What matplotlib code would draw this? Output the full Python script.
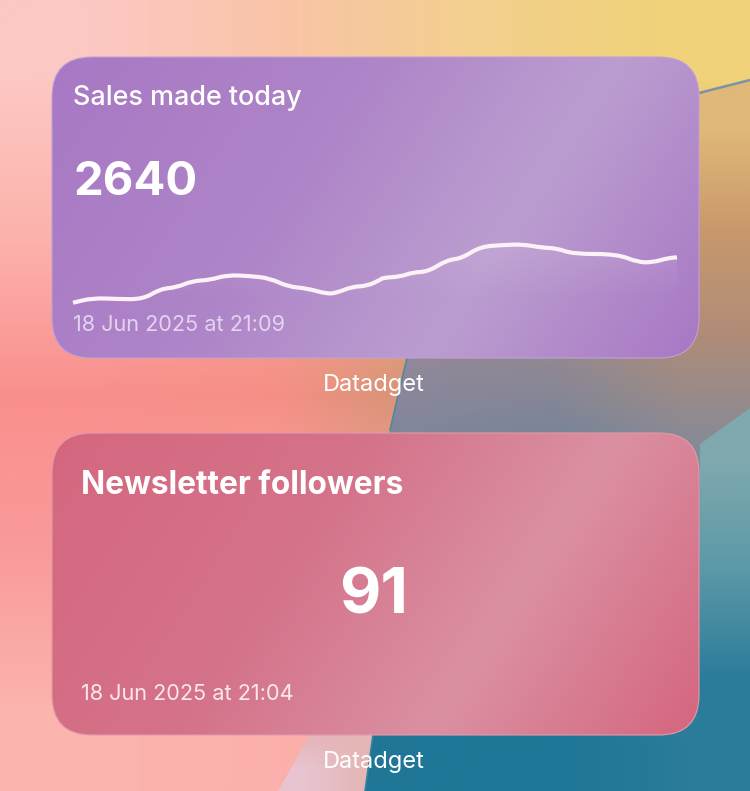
# -*-coding:utf-8-*-
import numpy as np
import matplotlib
matplotlib.use('Agg')
import matplotlib.pyplot as plt
from matplotlib.colors import to_rgb
from matplotlib.patches import FancyBboxPatch, Polygon, PathPatch
from matplotlib.path import Path

plt.rcParams['font.family'] = ['Inter', 'DejaVu Sans']

# sparkline samples
sample_pos = [0, 20, 44, 70, 87, 104, 119, 137, 154, 177, 197, 215, 234, 254, 264, 279, 294, 307,
              310, 327, 340, 355, 374, 389, 407, 430, 450, 469, 484, 500, 544, 565, 580, 594, 604]
sales = [2.3, 7, 6, 5.7, 16, 17.7, 24, 25, 30, 29, 26.7, 18.3, 16.7, 11, 12.3, 18.3, 19, 25,
         27.3, 28.3, 32.7, 33.3, 45, 46.7, 58.3, 60, 60.7, 57.3, 56.7, 51, 51, 42.7, 42.7, 46.7, 47.7]

card_titles = ['Sales made today', 'Newsletter followers']
card_values = ['2640', '91']
card_dates = ['18 Jun 2025 at 21:09', '18 Jun 2025 at 21:04']
app_name = 'Datadget'


def color_grid(rows):
    return np.array([[to_rgb(c) for c in r] for r in rows])


fig = plt.figure(figsize=(7.5, 7.91), dpi=100)
bg = fig.add_axes([0, 0, 1, 1])
ext = (0, 750, 791, 0)

# wallpaper
warm = color_grid([
    ['#fcc8c3', '#f9c4a8', '#f3cf8f', '#f0d27a'],
    ['#fdb2ac', '#f8ac98', '#e6b27e', '#d8ab70'],
    ['#f98f8d', '#f58f86', '#c8966e', '#bf9468'],
    ['#f99b99', '#f9a8a4', '#f4a09a', '#a88a80'],
    ['#fbb4ae', '#fbb0ac', '#f8a8a4', '#9a8a90'],
])
bg.imshow(warm, extent=ext, interpolation='bilinear', aspect='auto', zorder=0)

band = Polygon([(330, 700), (390, 700), (365, 791), (278, 791)], closed=True, transform=bg.transData)
im = bg.imshow(color_grid([['#e2aeb0', '#e6b4b4'], ['#e8c4d0', '#e4b6b6']]), extent=(278, 390, 791, 700),
               interpolation='bilinear', aspect='auto', zorder=1)
im.set_clip_path(band)

dark = color_grid([
    ['#e0b878', '#e0b878', '#e0b878'],
    ['#c8986c', '#c8986c', '#c8986c'],
    ['#98889a', '#9a8a90', '#b08c78'],
    ['#80869a', '#78849a', '#8a8a94'],
    ['#3f7c98', '#2f7a98', '#5a98a8'],
    ['#1f7898', '#1f7898', '#2f84a0'],
    ['#1f7696', '#1e7696', '#2a7c9a'],
])
shape = Polygon([(750, 80), (700, 93), (600, 135), (470, 250), (407, 358), (397, 400), (390, 430),
                 (380, 600), (373, 735), (365, 791), (750, 791)], closed=True,
                transform=bg.transData)
im = bg.imshow(dark, extent=(360, 750, 791, 80), interpolation='bilinear', aspect='auto', zorder=2)
im.set_clip_path(shape)
bg.plot([699, 750], [93, 80], color='#7a93a8', lw=1.8, zorder=3, solid_capstyle='butt')
bg.plot([407, 397, 390], [358, 400, 430], color='#4f8a9c', lw=1.2, zorder=3)
bg.plot([373, 365], [735, 791], color='#2f84a0', lw=1.2, zorder=3)
wedge = Polygon([(750, 408), (700, 444), (699, 735), (750, 735)], closed=True, transform=bg.transData)
im = bg.imshow(color_grid([['#7fa9ae', '#7fa9ae'], ['#5c98a8', '#5c98a8'], ['#2a7c9a', '#2a7c9a']]),
               extent=(699, 750, 735, 405), interpolation='bilinear', aspect='auto', zorder=3)
im.set_clip_path(wedge)


def draw_card(top, height, stops, edge):
    left, width = 52, 647
    xx, yy = np.meshgrid(np.linspace(0, 1, 200), np.linspace(0, 1, 100))
    t = xx + 0.3 * yy
    pos = [0, 0.5, 0.88, 1.3]
    rgb = np.array([to_rgb(c) for c in stops])
    img = np.dstack([np.interp(t, pos, rgb[:, i]) for i in range(3)])
    r = 40
    box = FancyBboxPatch((left + r, top + r), width - 2 * r, height - 2 * r,
                         boxstyle='round,pad=%d,rounding_size=%d' % (r, r),
                         fc='none', ec=edge, lw=0.8, zorder=5, transform=bg.transData)
    bg.add_patch(box)
    im = bg.imshow(img, extent=(left, left + width, top + height, top), aspect='auto', zorder=4,
                   interpolation='bilinear')
    im.set_clip_path(box)


draw_card(57, 301, ['#a878c4', '#ae85c8', '#bb9dd0', '#a878c4'], '#c0a0d6')
draw_card(433, 302, ['#d5677f', '#d4738a', '#db90a2', '#d4667f'], '#e29aaa')
bg.set_xlim(0, 750)
bg.set_ylim(791, 0)
bg.axis('off')

# sparkline
ax = fig.add_axes([73 / 750, 1 - 305 / 791, 604 / 750, 65 / 791])
ax.axis('off')
ax.patch.set_alpha(0)
fill = ax.fill_between(sample_pos, 3, sales, color='none')
fade = np.ones((64, 2, 4))
fade[:, :, 3] = np.linspace(0.10, 0.0, 64)[:, None]
im = ax.imshow(fade, extent=(0, 604, 3, 62), origin='upper', aspect='auto', zorder=2, interpolation='bilinear')
im.set_clip_path(fill.get_paths()[0], ax.transData)
ax.set_xlim(0, 604)
ax.set_ylim(0, 65)

# rounded line through the samples
pts = np.column_stack([sample_pos, sales])
mids = (pts[:-1] + pts[1:]) / 2
verts = [pts[0], mids[0]]
codes = [Path.MOVETO, Path.LINETO]
for i in range(1, len(pts) - 1):
    verts += [pts[i], mids[i]]
    codes += [Path.CURVE3, Path.CURVE3]
verts.append(pts[-1])
codes.append(Path.LINETO)
ax.add_patch(PathPatch(Path(verts, codes), fc='none', ec='#fbf1f6', lw=3, zorder=3,
                       clip_on=False, capstyle='butt', joinstyle='round'))

# card text
bg.text(73, 98, card_titles[0], color='#ffffff', fontsize=19.4, fontweight='medium', va='center', ha='left', zorder=6)
bg.text(73, 183, card_values[0], color='#ffffff', fontsize=34, fontweight='bold', va='center', ha='left', zorder=6)
bg.text(73, 325, card_dates[0], color='#e4d3ee', fontsize=15.6, va='center', ha='left', zorder=6)
bg.text(81, 486, card_titles[1], color='#ffffff', fontsize=22.8, fontweight='bold', va='center', ha='left', zorder=6)
bg.text(374, 597, card_values[1], color='#ffffff', fontsize=46, fontweight='bold', va='center', ha='center', zorder=6)
bg.text(81, 694, card_dates[1], color='#fce8ec', fontsize=15.6, va='center', ha='left', zorder=6)
bg.text(374, 385, app_name, color='#ffffff', fontsize=17, va='center', ha='center', zorder=6)
bg.text(374, 762, app_name, color='#ffffff', fontsize=17, va='center', ha='center', zorder=6)

fig.savefig('out.png', dpi=100)
